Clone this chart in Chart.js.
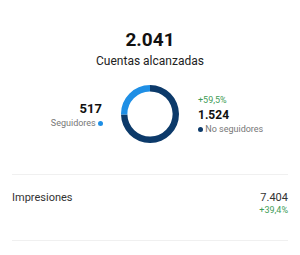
<!DOCTYPE html>
<html>
  <head>
    <title>Cuentas alcanzadas</title>
    <script src="https://cdn.jsdelivr.net/npm/chart.js@4.4.1/dist/chart.umd.min.js"></script>
    <style>
      body { margin: 0; width: 300px; height: 255px; background: #fff; font-family: Roboto, "Noto Sans", sans-serif; color: #111; position: relative; overflow: hidden; }
      .t { position: absolute; white-space: nowrap; line-height: 1; }
      .sep { position: absolute; left: 12px; width: 276px; height: 1px; background: #f0f0f0; }
      .dot { display: inline-block; width: 5px; height: 5px; border-radius: 50%; vertical-align: middle; }
    </style>
  </head>
  <body>
    <!-- Cabecera -->
    <div class="t" id="total" style="left:0; width:300px; text-align:center; top:30px; font-size:19px; font-weight:bold;"></div>
    <div class="t" style="left:0; width:300px; text-align:center; top:55px; font-size:12px; color:#222;">Cuentas alcanzadas</div>

    <!-- Seguidores -->
    <div class="t" id="v0" style="right:198px; top:102px; font-size:13px; font-weight:bold;"></div>
    <div class="t" style="right:197px; top:119px; font-size:9px; color:#777;"><span id="l0"></span> <span class="dot" id="d0"></span></div>

    <!-- Dona -->
    <div style="position:absolute; left:121px; top:85px; width:58px; height:58px;">
      <canvas id="donut" width="58" height="58"></canvas>
    </div>

    <!-- No seguidores -->
    <div class="t" id="chg" style="left:198px; top:96px; font-size:9px; color:#3f9d58;"></div>
    <div class="t" id="v1" style="left:198px; top:109px; font-size:12px; font-weight:bold;"></div>
    <div class="t" style="left:198px; top:125px; font-size:9px; color:#777;"><span class="dot" id="d1"></span> <span id="l1"></span></div>

    <!-- Impresiones -->
    <div class="sep" style="top:174px;"></div>
    <div class="t" id="impLabel" style="left:12px; top:192px; font-size:11px; color:#333;"></div>
    <div class="t" id="impVal" style="right:12px; top:192px; font-size:11px; color:#333;"></div>
    <div class="t" id="impChg" style="right:12px; top:206px; font-size:9px; color:#3f9d58;"></div>
    <div class="sep" style="top:240px;"></div>

    <script>
      // Datos
      const categories = ["Seguidores", "No seguidores"];
      const values = [517, 1524];
      const colors = ["#1f8fe5", "#0c3a6a"];
      const changeNoSeguidores = "+59,5%";
      const metricLabels = ["Impresiones"];
      const metricValues = [7404];
      const metricChanges = ["+39,4%"];

      const fmt = (n) => n.toLocaleString("de-DE");
      const total = values.reduce((a, b) => a + b, 0);

      document.getElementById("total").textContent = fmt(total);
      document.getElementById("v0").textContent = fmt(values[0]);
      document.getElementById("l0").textContent = categories[0];
      document.getElementById("d0").style.background = colors[0];
      document.getElementById("chg").textContent = changeNoSeguidores;
      document.getElementById("v1").textContent = fmt(values[1]);
      document.getElementById("l1").textContent = categories[1];
      document.getElementById("d1").style.background = colors[1];
      document.getElementById("impLabel").textContent = metricLabels[0];
      document.getElementById("impVal").textContent = fmt(metricValues[0]);
      document.getElementById("impChg").textContent = metricChanges[0];

      // Orden invertido para que el tramo claro quede arriba a la izquierda
      new Chart(document.getElementById("donut").getContext("2d"), {
        type: "doughnut",
        data: {
          labels: categories.slice().reverse(),
          datasets: [{
            data: values.slice().reverse(),
            backgroundColor: colors.slice().reverse(),
            borderWidth: 0
          }]
        },
        options: {
          responsive: false,
          animation: false,
          cutout: "78%",
          plugins: { legend: { display: false }, tooltip: { enabled: false } }
        }
      });
    </script>
  </body>
</html>
